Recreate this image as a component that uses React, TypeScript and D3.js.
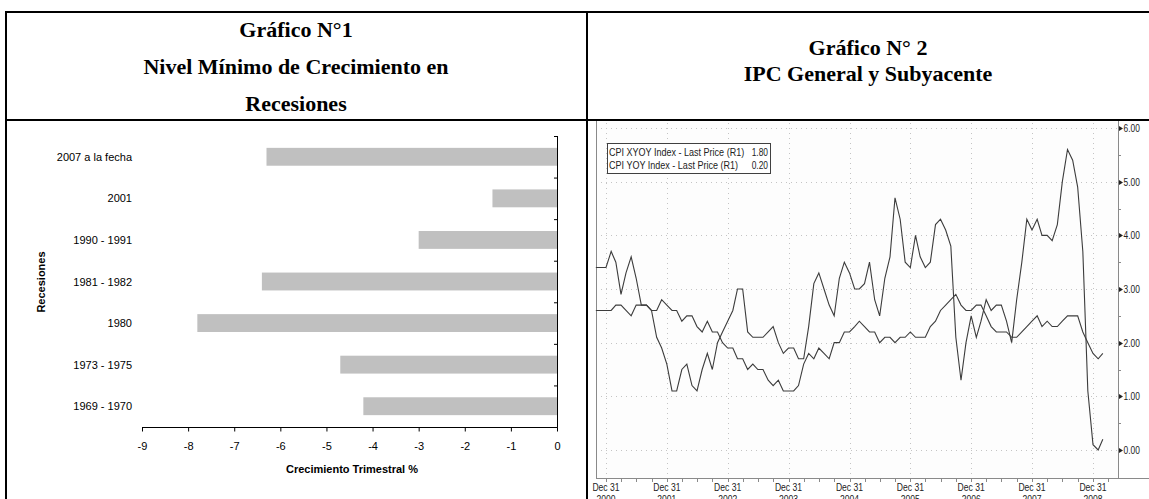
import React from "react";
import * as d3 from "d3";

// ---------- Chart 1 data ----------
const recessions = ["2007 a la fecha", "2001", "1990 - 1991", "1981 - 1982", "1980", "1973 - 1975", "1969 - 1970"];
const minGrowth = [-6.3, -1.4, -3.0, -6.4, -7.8, -4.7, -4.2];
const growthTicks = [-9, -8, -7, -6, -5, -4, -3, -2, -1, 0];

// ---------- Chart 2 data (monthly, Oct 2000 -> Feb 2009) ----------
const startYear = 2000;
const startMonth = 9; // October (0-based)
const cpiYoy = [
  3.4, 3.4, 3.4,
  3.7, 3.5, 2.9, 3.3, 3.6, 3.2, 2.7, 2.7, 2.6, 2.1, 1.9, 1.6,
  1.1, 1.1, 1.5, 1.6, 1.2, 1.1, 1.5, 1.8, 1.5, 2.0, 2.2, 2.4,
  2.6, 3.0, 3.0, 2.2, 2.1, 2.1, 2.1, 2.2, 2.3, 2.0, 1.8, 1.9,
  1.9, 1.7, 1.7, 2.3, 3.1, 3.3, 3.0, 2.7, 2.5, 3.2, 3.5, 3.3,
  3.0, 3.0, 3.1, 3.5, 2.8, 2.5, 3.2, 3.6, 4.7, 4.3, 3.5, 3.4,
  4.0, 3.6, 3.4, 3.5, 4.2, 4.3, 4.1, 3.8, 2.1, 1.3, 2.0, 2.5,
  2.1, 2.4, 2.8, 2.6, 2.7, 2.7, 2.4, 2.0, 2.8, 3.5, 4.3, 4.1,
  4.3, 4.0, 4.0, 3.9, 4.2, 5.0, 5.6, 5.4, 4.9, 3.7, 1.1, 0.1,
  0.0, 0.2,
];
const cpiCoreYoy = [
  2.6, 2.6, 2.6,
  2.6, 2.7, 2.7, 2.6, 2.5, 2.7, 2.7, 2.7, 2.6, 2.6, 2.8, 2.7,
  2.6, 2.6, 2.4, 2.5, 2.5, 2.3, 2.2, 2.4, 2.2, 2.2, 2.0, 1.9,
  1.9, 1.7, 1.7, 1.5, 1.6, 1.5, 1.5, 1.3, 1.2, 1.3, 1.1, 1.1,
  1.1, 1.2, 1.6, 1.8, 1.7, 1.9, 1.8, 1.7, 2.0, 2.0, 2.2, 2.2,
  2.3, 2.4, 2.3, 2.2, 2.2, 2.0, 2.1, 2.1, 2.0, 2.1, 2.1, 2.2,
  2.1, 2.1, 2.1, 2.3, 2.4, 2.6, 2.7, 2.8, 2.9, 2.7, 2.6, 2.6,
  2.7, 2.7, 2.5, 2.3, 2.2, 2.2, 2.2, 2.1, 2.1, 2.2, 2.3, 2.4,
  2.5, 2.3, 2.4, 2.3, 2.3, 2.4, 2.5, 2.5, 2.5, 2.2, 2.0, 1.8,
  1.7, 1.8,
];
const yTicks = [0, 1, 2, 3, 4, 5, 6];
const yearLabels = [2000, 2001, 2002, 2003, 2004, 2005, 2006, 2007, 2008];
const legendItems = [
  { name: "CPI XYOY Index - Last Price (R1)", last: "1.80" },
  { name: "CPI YOY Index - Last Price (R1)", last: "0.20" },
];

const SANS = "'Liberation Sans', Arial, sans-serif";
const SERIF = "'Liberation Serif', 'Times New Roman', serif";

function Narrow(props: { x: number; y: number; sx: number; anchor?: string; size: number; children: React.ReactNode }) {
  const { x, y, sx, anchor, size, children } = props;
  return (
    <text
      transform={`translate(${x},${y}) scale(${sx},1)`}
      textAnchor={anchor ?? "start"}
      fontFamily={SANS}
      fontSize={size}
      fill="#222"
    >
      {children}
    </text>
  );
}

export default function App() {
  // ---------- Chart 1 scales ----------
  const x1 = d3.scaleLinear().domain([-9, 0]).range([142, 557]);
  const y1 = d3.scaleBand<string>().domain(recessions).range([136, 427]).paddingInner(0.57).paddingOuter(0.285);
  const step = y1.step();
  const bandTop = 136;
  const bandBoundaries = d3.range(recessions.length + 1).map((i) => bandTop + i * step);

  // ---------- Chart 2 scales ----------
  const dates = cpiYoy.map((_, i) => new Date(startYear, startMonth + i + 1, 0));
  const x2 = d3.scaleTime().domain([new Date(2000, 11, 31), new Date(2008, 11, 31)]).range([606, 1093]);
  const y2 = d3.scaleLinear().domain([0, 6]).range([450, 128]);
  const plotL = 596, plotR = 1118, plotT = 121, plotB = 478;
  const line = d3.line<number>().x((_, i) => x2(dates[i])).y((v) => y2(v));
  const quarterTicks = d3.timeMonth
    .range(new Date(2000, 11, 1), new Date(2009, 3, 1), 3)
    .map((d) => new Date(d.getFullYear(), d.getMonth() + 1, 0));
  const minorY = d3.range(0.5, 6.5, 1);

  return (
    <svg width={1149} height={499} style={{ position: "absolute", left: 0, top: 0, background: "#fff" }}>
      {/* ---------- table frame ---------- */}
      <g stroke="#000" strokeWidth={2}>
        <line x1={6} x2={1149} y1={12} y2={12} />
        <line x1={6} x2={1149} y1={120} y2={120} />
        <line x1={6} x2={6} y1={11} y2={499} />
        <line x1={587} x2={587} y1={11} y2={499} />
      </g>

      {/* ---------- titles ---------- */}
      <g fontFamily={SERIF} fontWeight="bold" fontSize={22} textAnchor="middle" fill="#000">
        <text x={296} y={37}>Gráfico N°1</text>
        <text x={296} y={74}>Nivel Mínimo de Crecimiento en</text>
        <text x={296} y={111}>Recesiones</text>
        <text x={868} y={55}>Gráfico N° 2</text>
        <text x={868} y={81}>IPC General y Subyacente</text>
      </g>

      {/* ---------- Chart 1 ---------- */}
      <g>
        {recessions.map((r, i) => (
          <rect
            key={r}
            x={x1(minGrowth[i])}
            y={y1(r)}
            width={x1(0) - x1(minGrowth[i])}
            height={y1.bandwidth()}
            fill="#c0c0c0"
          />
        ))}
        <g stroke="#000" strokeWidth={1}>
          <line x1={x1(0) + 0.5} x2={x1(0) + 0.5} y1={bandTop} y2={427.5} />
          {bandBoundaries.map((b, i) => (
            <line key={i} x1={x1(0) - 3} x2={x1(0) + 0.5} y1={b + 0.5} y2={b + 0.5} />
          ))}
          <line x1={x1(-9)} x2={x1(0) + 0.5} y1={427.5} y2={427.5} />
          {growthTicks.map((t) => (
            <line key={t} x1={x1(t) + 0.5} x2={x1(t) + 0.5} y1={427.5} y2={431.5} />
          ))}
        </g>
        <g fontFamily={SANS} fontSize={11} fill="#000">
          {recessions.map((r) => (
            <text key={r} x={132} y={(y1(r) ?? 0) + y1.bandwidth() / 2 + 4} textAnchor="end">
              {r}
            </text>
          ))}
          {growthTicks.map((t) => (
            <text key={t} x={x1(t) + 0.5} y={450} textAnchor="middle">
              {t}
            </text>
          ))}
          <text x={352} y={473} textAnchor="middle" fontWeight="bold">
            Crecimiento Trimestral %
          </text>
          <text transform="translate(45,282) rotate(-90)" textAnchor="middle" fontWeight="bold">
            Recesiones
          </text>
        </g>
      </g>

      {/* ---------- Chart 2 ---------- */}
      <g>
        <rect x={plotL} y={plotT + 1} width={plotR - plotL} height={plotB - plotT - 1} fill="#fdfdfd" />
        <g stroke="#c4c4c4" strokeWidth={1} strokeDasharray="1,4">
          {yTicks.map((t) => (
            <line key={t} x1={plotL} x2={plotR} y1={Math.round(y2(t)) + 0.5} y2={Math.round(y2(t)) + 0.5} />
          ))}
          {yearLabels.map((yr) => {
            const xx = Math.round(x2(new Date(yr, 11, 31))) + 0.5;
            return <line key={yr} x1={xx} x2={xx} y1={plotT + 2} y2={plotB} />;
          })}
        </g>
        {/* plot frame */}
        <g stroke="#8a8a8a" strokeWidth={1}>
          <line x1={plotL + 0.5} x2={plotL + 0.5} y1={plotT} y2={plotB} />
          <line x1={plotL} x2={1149} y1={plotB + 0.5} y2={plotB + 0.5} />
          <line x1={plotR + 0.5} x2={plotR + 0.5} y1={plotT} y2={plotB} />
          {quarterTicks.map((d, i) => {
            const xx = Math.round(x2(d)) + 0.5;
            return xx < plotR ? <line key={i} x1={xx} x2={xx} y1={plotB} y2={plotB + 4} /> : null;
          })}
          {minorY.map((t) => (
            <line key={t} x1={plotR} x2={plotR + 3} y1={Math.round(y2(t)) + 0.5} y2={Math.round(y2(t)) + 0.5} />
          ))}
        </g>
        {/* series */}
        <path d={line(cpiCoreYoy) ?? ""} fill="none" stroke="#3c3c3c" strokeWidth={1.1} />
        <path d={line(cpiYoy) ?? ""} fill="none" stroke="#3c3c3c" strokeWidth={1.1} />

        {/* right axis labels */}
        {yTicks.map((t) => {
          const yy = Math.round(y2(t)) + 0.5;
          return (
            <g key={t}>
              <path d={`M${plotR + 1},${yy - 2.5}L${plotR + 5},${yy}L${plotR + 1},${yy + 2.5}Z`} fill="#222" />
              <Narrow x={plotR + 5.5} y={yy + 3.8} sx={0.8} size={10.5}>
                {t.toFixed(2)}
              </Narrow>
            </g>
          );
        })}

        {/* x labels */}
        {yearLabels.map((yr) => {
          const xx = x2(new Date(yr, 11, 31));
          return (
            <g key={yr}>
              <Narrow x={xx} y={491} sx={0.78} size={11} anchor="middle">
                Dec 31
              </Narrow>
              <Narrow x={xx} y={503} sx={0.78} size={11} anchor="middle">
                {yr}
              </Narrow>
            </g>
          );
        })}

        {/* legend */}
        <rect x={607.5} y={143.5} width={163} height={30} fill="#fff" stroke="#404040" strokeWidth={1} />
        {legendItems.map((it, i) => (
          <g key={it.name}>
            <Narrow x={609} y={156 + i * 13} sx={0.86} size={10.5}>
              {it.name}
            </Narrow>
            <Narrow x={768} y={156 + i * 13} sx={0.8} size={10.5} anchor="end">
              {it.last}
            </Narrow>
          </g>
        ))}
      </g>
    </svg>
  );
}
